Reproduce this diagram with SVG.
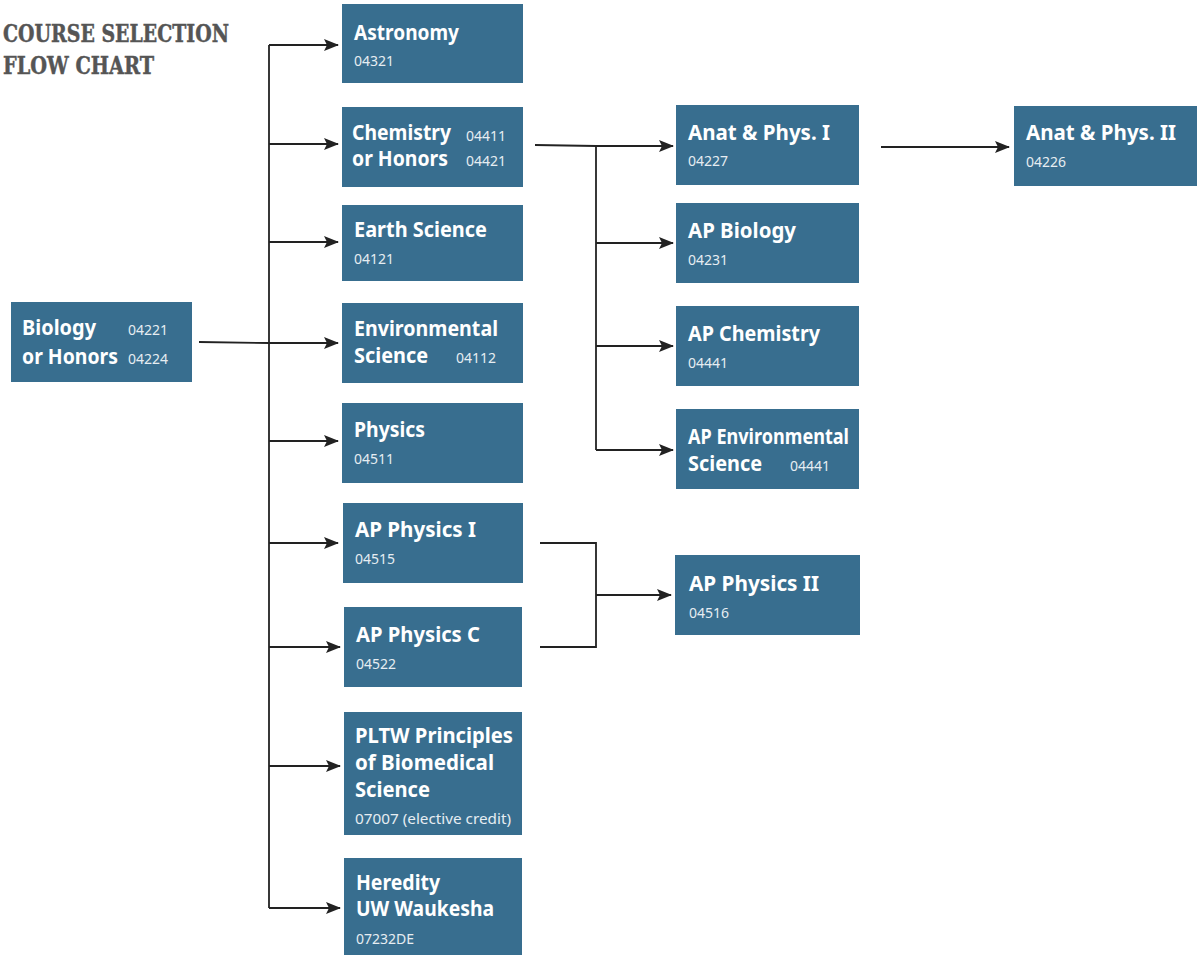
<svg xmlns="http://www.w3.org/2000/svg" width="1199" height="955" viewBox="0 0 1199 955">
<style>
.box{fill:#386e8f}
.t{font-family:"Noto Sans","DejaVu Sans",sans-serif;font-weight:bold;font-size:21px;fill:#ffffff}
.c{font-family:"Noto Sans","DejaVu Sans",sans-serif;font-size:14px;fill:#e6edf2}
.ttl{font-family:"DejaVu Serif","Liberation Serif",serif;font-weight:bold;font-size:25px;fill:#555555;stroke:#555555;stroke-width:0.5}
.ln{fill:none;stroke:#222222;stroke-width:1.8}
</style>
<defs>
<marker id="ah" markerUnits="userSpaceOnUse" markerWidth="16" markerHeight="14" refX="14" refY="7" orient="auto">
<path d="M0,1 L15,7 L0,13 L3,7 z" fill="#222222"/>
</marker>
</defs>
<g id="title">
<text class="ttl" x="3" y="42" textLength="226" lengthAdjust="spacingAndGlyphs">COURSE SELECTION</text>
<text class="ttl" x="3" y="74" textLength="151" lengthAdjust="spacingAndGlyphs">FLOW CHART</text>
</g>
<g id="connectors">
<path class="ln" d="M199,342 L269,343"/>
<path class="ln" d="M269,45 L269,908"/>
<path class="ln" marker-end="url(#ah)" d="M269,45 L338,45"/>
<path class="ln" marker-end="url(#ah)" d="M269,144 L338,144"/>
<path class="ln" marker-end="url(#ah)" d="M269,242 L338,242"/>
<path class="ln" marker-end="url(#ah)" d="M269,343 L338,343"/>
<path class="ln" marker-end="url(#ah)" d="M269,441 L338,441"/>
<path class="ln" marker-end="url(#ah)" d="M269,543 L338,543"/>
<path class="ln" marker-end="url(#ah)" d="M269,647 L340,647"/>
<path class="ln" marker-end="url(#ah)" d="M269,766 L340,766"/>
<path class="ln" marker-end="url(#ah)" d="M269,908 L340,908"/>
<path class="ln" d="M535,145 L596,146"/>
<path class="ln" d="M596,146 L596,450"/>
<path class="ln" marker-end="url(#ah)" d="M596,146 L673,146"/>
<path class="ln" marker-end="url(#ah)" d="M596,243 L673,243"/>
<path class="ln" marker-end="url(#ah)" d="M596,346 L673,346"/>
<path class="ln" marker-end="url(#ah)" d="M596,450 L673,450"/>
<path class="ln" marker-end="url(#ah)" d="M881,147 L1009,147"/>
<path class="ln" d="M540,543 L596,543 L596,647 L540,647"/>
<path class="ln" marker-end="url(#ah)" d="M596,595 L671,595"/>
</g>
<g id="biology">
<rect class="box" x="11" y="302" width="181" height="80"/>
<text class="t" x="22" y="335" textLength="74" lengthAdjust="spacingAndGlyphs">Biology</text>
<text class="c" x="128" y="335">04221</text>
<text class="t" x="22" y="364" textLength="96" lengthAdjust="spacingAndGlyphs">or Honors</text>
<text class="c" x="128" y="364">04224</text>
</g>
<g id="astronomy">
<rect class="box" x="342" y="4" width="181" height="79"/>
<text class="t" x="354" y="40" textLength="105" lengthAdjust="spacingAndGlyphs">Astronomy</text>
<text class="c" x="354" y="66">04321</text>
</g>
<g id="chemistry">
<rect class="box" x="342" y="107" width="181" height="80"/>
<text class="t" x="352" y="140" textLength="99" lengthAdjust="spacingAndGlyphs">Chemistry</text>
<text class="c" x="466" y="141">04411</text>
<text class="t" x="352" y="166" textLength="96" lengthAdjust="spacingAndGlyphs">or Honors</text>
<text class="c" x="466" y="166">04421</text>
</g>
<g id="earth">
<rect class="box" x="342" y="205" width="181" height="76"/>
<text class="t" x="354" y="237" textLength="133" lengthAdjust="spacingAndGlyphs">Earth Science</text>
<text class="c" x="354" y="264">04121</text>
</g>
<g id="environmental">
<rect class="box" x="342" y="303" width="181" height="80"/>
<text class="t" x="354" y="336" textLength="144" lengthAdjust="spacingAndGlyphs">Environmental</text>
<text class="t" x="354" y="363" textLength="74" lengthAdjust="spacingAndGlyphs">Science</text>
<text class="c" x="456" y="363">04112</text>
</g>
<g id="physics">
<rect class="box" x="342" y="403" width="181" height="80"/>
<text class="t" x="354" y="437" textLength="71" lengthAdjust="spacingAndGlyphs">Physics</text>
<text class="c" x="354" y="464">04511</text>
</g>
<g id="apphys1">
<rect class="box" x="343" y="503" width="180" height="80"/>
<text class="t" x="355" y="537" textLength="121" lengthAdjust="spacingAndGlyphs">AP Physics I</text>
<text class="c" x="355" y="564">04515</text>
</g>
<g id="apphysc">
<rect class="box" x="344" y="607" width="178" height="80"/>
<text class="t" x="356" y="642" textLength="124" lengthAdjust="spacingAndGlyphs">AP Physics C</text>
<text class="c" x="356" y="669">04522</text>
</g>
<g id="pltw">
<rect class="box" x="344" y="712" width="178" height="123"/>
<text class="t" x="355" y="743" textLength="158" lengthAdjust="spacingAndGlyphs">PLTW Principles</text>
<text class="t" x="355" y="770" textLength="139" lengthAdjust="spacingAndGlyphs">of Biomedical</text>
<text class="t" x="355" y="797" textLength="75" lengthAdjust="spacingAndGlyphs">Science</text>
<text class="c" x="355" y="824" textLength="156" lengthAdjust="spacingAndGlyphs">07007 (elective credit)</text>
</g>
<g id="heredity">
<rect class="box" x="344" y="858" width="178" height="97"/>
<text class="t" x="356" y="890" textLength="84" lengthAdjust="spacingAndGlyphs">Heredity</text>
<text class="t" x="356" y="916" textLength="138" lengthAdjust="spacingAndGlyphs">UW Waukesha</text>
<text class="c" x="356" y="944">07232DE</text>
</g>
<g id="anat1">
<rect class="box" x="676" y="105" width="183" height="80"/>
<text class="t" x="688" y="140" textLength="142" lengthAdjust="spacingAndGlyphs">Anat &amp; Phys. I</text>
<text class="c" x="688" y="166">04227</text>
</g>
<g id="apbio">
<rect class="box" x="676" y="203" width="183" height="80"/>
<text class="t" x="688" y="238" textLength="108" lengthAdjust="spacingAndGlyphs">AP Biology</text>
<text class="c" x="688" y="265">04231</text>
</g>
<g id="apchem">
<rect class="box" x="676" y="306" width="183" height="80"/>
<text class="t" x="688" y="341" textLength="132" lengthAdjust="spacingAndGlyphs">AP Chemistry</text>
<text class="c" x="688" y="368">04441</text>
</g>
<g id="apenv">
<rect class="box" x="676" y="409" width="183" height="80"/>
<text class="t" x="688" y="444" textLength="161" lengthAdjust="spacingAndGlyphs">AP Environmental</text>
<text class="t" x="688" y="471" textLength="74" lengthAdjust="spacingAndGlyphs">Science</text>
<text class="c" x="790" y="471">04441</text>
</g>
<g id="anat2">
<rect class="box" x="1014" y="106" width="183" height="80"/>
<text class="t" x="1026" y="140" textLength="150" lengthAdjust="spacingAndGlyphs">Anat &amp; Phys. II</text>
<text class="c" x="1026" y="167">04226</text>
</g>
<g id="apphys2">
<rect class="box" x="675" y="555" width="185" height="80"/>
<text class="t" x="689" y="591" textLength="130" lengthAdjust="spacingAndGlyphs">AP Physics II</text>
<text class="c" x="689" y="618">04516</text>
</g>
</svg>
